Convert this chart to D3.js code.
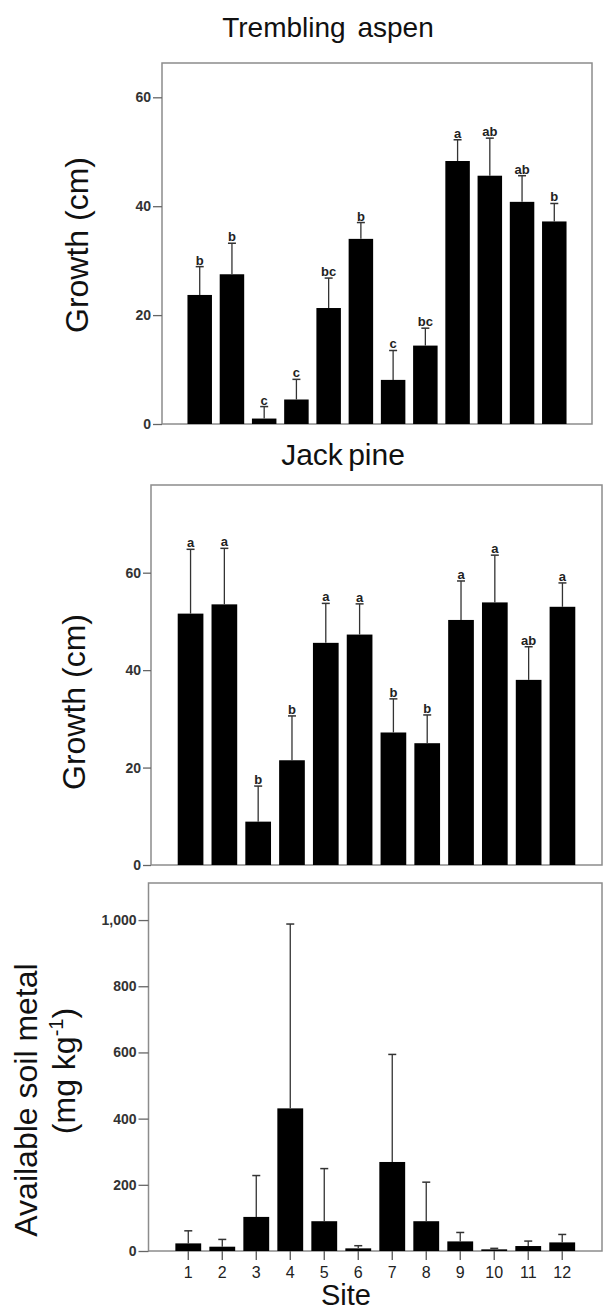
<!DOCTYPE html>
<html>
<head>
<meta charset="utf-8">
<script src="https://cdn.jsdelivr.net/npm/d3@7"></script>
<style>
  html, body { margin: 0; padding: 0; background: #fff; }
  svg { display: block; font-family: "Liberation Sans", Arial, sans-serif; }
</style>
</head>
<body>
<svg id="chart" width="603" height="1316"></svg>
<script>
// ---- Data ----
const sites = ["1","2","3","4","5","6","7","8","9","10","11","12"];

const aspenMean = [23.7, 27.5, 1.0, 4.5, 21.3, 34.0, 8.1, 14.4, 48.3, 45.6, 40.8, 37.2];
const aspenErr  = [5.2, 5.7, 2.2, 3.7, 5.5, 3.0, 5.4, 3.2, 3.9, 6.9, 4.8, 3.3];
const aspenLetters = ["b","b","c","c","bc","b","c","bc","a","ab","ab","b"];
const aspenTicks = [0, 20, 40, 60];

const pineMean = [51.6, 53.5, 8.9, 21.5, 45.6, 47.3, 27.2, 25.0, 50.3, 53.9, 38.0, 53.0];
const pineErr  = [13.2, 11.5, 7.3, 9.1, 8.1, 6.3, 6.9, 5.8, 8.0, 9.7, 6.8, 4.9];
const pineLetters = ["a","a","b","b","a","a","b","b","a","a","ab","a"];
const pineTicks = [0, 20, 40, 60];

const metalMean = [23, 13, 103, 431, 90, 8, 269, 90, 29, 5, 15, 26];
const metalErr  = [38, 22, 125, 557, 159, 8, 325, 118, 27, 3, 15, 24];
const metalTicks = [0, 200, 400, 600, 800, 1000];

const svg = d3.select("#chart");

function panel(opt) {
  const x = d3.scaleBand().domain(sites)
    .range([opt.left, opt.right]).paddingInner(0.24).paddingOuter(0.79);
  const y = d3.scaleLinear().domain([0, opt.ymax]).range([opt.bottom, opt.top]);
  const g = svg.append("g");

  // frame
  g.append("rect")
    .attr("x", opt.left).attr("y", opt.top)
    .attr("width", opt.right - opt.left).attr("height", opt.bottom - opt.top)
    .attr("fill", "none").attr("stroke", "#8c8c8c").attr("stroke-width", 1.5);

  // y axis
  const ax = g.append("g").attr("transform", `translate(${opt.left},0)`)
    .call(d3.axisLeft(y).tickValues(opt.ticks).tickSize(opt.tickLen).tickPadding(2)
      .tickFormat(opt.fmt || d3.format("d")));
  ax.select(".domain").remove();
  ax.selectAll(".tick line").attr("stroke", "#666").attr("stroke-width", 1.3);
  ax.selectAll(".tick text").attr("fill", "#333").attr("font-size", 14)
    .attr("font-weight", "bold");

  // bars
  g.selectAll("rect.bar").data(opt.mean).enter().append("rect")
    .attr("class", "bar")
    .attr("x", (d, i) => x(sites[i]))
    .attr("width", x.bandwidth())
    .attr("y", d => y(d))
    .attr("height", d => y(0) - y(d))
    .attr("fill", "#000");

  // error bars (upper)
  const cx = i => x(sites[i]) + x.bandwidth() / 2;
  g.selectAll("line.err").data(opt.mean).enter().append("line")
    .attr("x1", (d, i) => cx(i)).attr("x2", (d, i) => cx(i))
    .attr("y1", d => y(d)).attr("y2", (d, i) => y(d + opt.err[i]))
    .attr("stroke", "#333").attr("stroke-width", 1.3);
  g.selectAll("line.cap").data(opt.mean).enter().append("line")
    .attr("x1", (d, i) => cx(i) - 4).attr("x2", (d, i) => cx(i) + 4)
    .attr("y1", (d, i) => y(d + opt.err[i])).attr("y2", (d, i) => y(d + opt.err[i]))
    .attr("stroke", "#333").attr("stroke-width", 1.5);

  // letters
  if (opt.letters) {
    g.selectAll("text.let").data(opt.letters).enter().append("text")
      .attr("x", (d, i) => cx(i))
      .attr("y", (d, i) => y(opt.mean[i] + opt.err[i]) - 2)
      .attr("text-anchor", "middle")
      .attr("font-size", 13).attr("font-weight", "bold").attr("fill", "#222")
      .text(d => d);
  }

  // x ticks
  if (opt.xTicks) {
    g.selectAll("line.xt").data(sites).enter().append("line")
      .attr("x1", d => x(d) + x.bandwidth() / 2).attr("x2", d => x(d) + x.bandwidth() / 2)
      .attr("y1", y(0)).attr("y2", y(0) + 9)
      .attr("stroke", "#555").attr("stroke-width", 1.3);
    g.selectAll("text.xl").data(sites).enter().append("text")
      .attr("x", d => x(d) + x.bandwidth() / 2).attr("y", y(0) + 27)
      .attr("text-anchor", "middle").attr("font-size", 16).attr("fill", "#222")
      .text(d => d);
  }
  return {x, y};
}

panel({left: 162, right: 592, top: 63, bottom: 424, ymax: 66.3, ticks: aspenTicks,
  tickLen: 9, mean: aspenMean, err: aspenErr, letters: aspenLetters});
panel({left: 151, right: 602, top: 485, bottom: 865, ymax: 78.0, ticks: pineTicks,
  tickLen: 8, mean: pineMean, err: pineErr, letters: pineLetters});
panel({left: 148.5, right: 602, top: 883, bottom: 1251, ymax: 1112, ticks: metalTicks,
  tickLen: 10, mean: metalMean, err: metalErr, xTicks: true, fmt: d3.format(",")});

// titles
svg.append("text").attr("x", 328).attr("y", 37).attr("text-anchor", "middle")
  .attr("font-size", 28).attr("fill", "#111").attr("word-spacing", 4).text("Trembling aspen");
svg.append("text").attr("x", 343).attr("y", 465).attr("text-anchor", "middle")
  .attr("font-size", 30).attr("fill", "#111").attr("word-spacing", -3).text("Jack pine");

// y labels
svg.append("text").attr("transform", "translate(88,245) rotate(-90)")
  .attr("text-anchor", "middle").attr("font-size", 32).attr("fill", "#111").text("Growth (cm)");
svg.append("text").attr("transform", "translate(85,702) rotate(-90)")
  .attr("text-anchor", "middle").attr("font-size", 32).attr("fill", "#111").text("Growth (cm)");
svg.append("text").attr("transform", "translate(37,1100) rotate(-90)")
  .attr("text-anchor", "middle").attr("font-size", 32).attr("fill", "#111").text("Available soil metal");
const l2 = svg.append("text").attr("transform", "translate(75,1071) rotate(-90)")
  .attr("text-anchor", "middle").attr("font-size", 32).attr("fill", "#111");
l2.append("tspan").text("(mg kg");
l2.append("tspan").attr("font-size", 20).attr("dy", -12).text("-1");
l2.append("tspan").attr("dy", 12).text(")");

// x label
svg.append("text").attr("x", 346).attr("y", 1305).attr("text-anchor", "middle")
  .attr("font-size", 29).attr("fill", "#111").text("Site");
</script>
</body>
</html>
